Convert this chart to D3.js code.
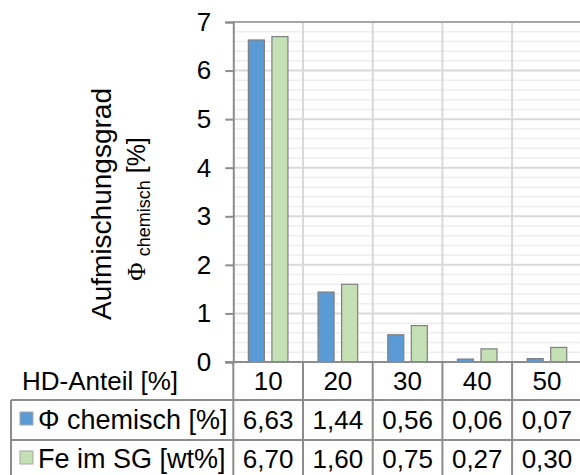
<!DOCTYPE html>
<html><head><meta charset="utf-8">
<script src="https://cdn.jsdelivr.net/npm/d3@7"></script>
<style>
html,body{margin:0;padding:0;background:#fff;}
svg text{font-family:"Liberation Sans",Arial,sans-serif;fill:#000;}
</style></head>
<body>
<script>
const categories = ["10","20","30","40","50"];
const seriesNames = ["Φ chemisch [%]","Fe im SG [wt%]"];
const phiChemisch = [6.63,1.44,0.56,0.06,0.07];
const feImSG = [6.70,1.60,0.75,0.27,0.30];
const seriesLabels = [["6,63","1,44","0,56","0,06","0,07"],["6,70","1,60","0,75","0,27","0,30"]];
const yTicks = [0,1,2,3,4,5,6,7];
const colors = ["#5B9BD5","#C5E0B4"];
const headerLabel = "HD-Anteil [%]";

(function(){
const W=580,H=475;
const svg=d3.select("body").append("svg").attr("width",W).attr("height",H);

const pLeft=233.3, pRight=581.8, pTop=22, zero=362;
const x=d3.scaleBand().domain(categories).range([pLeft,pRight]).paddingInner(0).paddingOuter(0);
const xs=d3.scaleBand().domain([0,1]).range([0,x.bandwidth()]).paddingInner(0.32).paddingOuter(0.64);
const y=d3.scaleLinear().domain([0,7]).range([zero,pTop]);

const minor=d3.range(0,7.001,0.2).filter(v=>Math.abs(v-Math.round(v))>1e-6);
svg.append("g").selectAll("line").data(minor).join("line")
  .attr("x1",pLeft).attr("x2",W).attr("y1",d=>y(d)).attr("y2",d=>y(d))
  .attr("stroke","#eeeeee").attr("stroke-width",1.5);
svg.append("g").selectAll("line").data(yTicks.filter(d=>d>0&&d<7)).join("line")
  .attr("x1",pLeft).attr("x2",W).attr("y1",d=>y(d)).attr("y2",d=>y(d))
  .attr("stroke","#d9d9d9").attr("stroke-width",2);
svg.append("g").selectAll("line").data(categories.slice(1)).join("line")
  .attr("x1",d=>x(d)).attr("x2",d=>x(d)).attr("y1",pTop).attr("y2",zero)
  .attr("stroke","#d9d9d9").attr("stroke-width",2);
svg.append("line").attr("x1",pLeft).attr("x2",W).attr("y1",y(7)).attr("y2",y(7))
  .attr("stroke","#a6a6a6").attr("stroke-width",2);

const data=[phiChemisch,feImSG];
data.forEach((vals,si)=>{
  svg.append("g").selectAll("rect").data(vals).join("rect")
    .attr("x",(d,i)=>x(categories[i])+xs(si))
    .attr("width",xs.bandwidth())
    .attr("y",d=>y(d)).attr("height",d=>zero-y(d))
    .attr("fill",colors[si]).attr("stroke","#7f7f7f").attr("stroke-width",1.2);
});

const yAxis=svg.append("g").attr("transform",`translate(${pLeft},0)`)
  .call(d3.axisLeft(y).tickValues(yTicks).tickSize(8).tickPadding(14).tickFormat(d3.format("d")));
yAxis.select(".domain").attr("stroke","#8c8c8c").attr("stroke-width",2);
yAxis.selectAll(".tick line").attr("stroke","#8c8c8c").attr("stroke-width",2);
yAxis.selectAll(".tick text").attr("font-size",26).attr("font-family","Liberation Sans, Arial, sans-serif").attr("fill","#000");

svg.append("text").attr("transform","translate(111,204) rotate(-90)")
  .attr("text-anchor","middle").attr("font-size",28).text("Aufmischungsgrad");
const t2=svg.append("text").attr("transform","translate(145,209) rotate(-90)")
  .attr("text-anchor","middle").attr("font-size",25);
t2.append("tspan").attr("font-family","Liberation Serif, Times New Roman, serif").text("Φ ");
t2.append("tspan").attr("font-size",18).attr("dy",5).text("chemisch");
t2.append("tspan").attr("dy",-5).text(" [%]");

const lineC="#8c8c8c";
const tbl=svg.append("g");
tbl.append("line").attr("x1",225).attr("x2",W).attr("y1",zero).attr("y2",zero).attr("stroke",lineC).attr("stroke-width",2);
[400,440,480].forEach(yy=>tbl.append("line").attr("x1",11).attr("x2",W).attr("y1",yy).attr("y2",yy).attr("stroke",lineC).attr("stroke-width",2));
tbl.append("line").attr("x1",11).attr("x2",11).attr("y1",400).attr("y2",480).attr("stroke",lineC).attr("stroke-width",2);
tbl.append("g").selectAll("line").data(categories).join("line")
  .attr("x1",d=>x(d)).attr("x2",d=>x(d)).attr("y1",zero).attr("y2",480)
  .attr("stroke",lineC).attr("stroke-width",2);
tbl.append("text").attr("x",22).attr("y",390).attr("font-size",26).text(headerLabel);
tbl.append("g").selectAll("text").data(categories).join("text")
  .attr("x",d=>x(d)+x.bandwidth()/2).attr("y",390).attr("text-anchor","middle")
  .attr("font-size",26).text(d=>d);
seriesNames.forEach((nm,si)=>{
  const by=429+si*39;
  tbl.append("rect").attr("x",20).attr("y",by-17).attr("width",13).attr("height",13)
    .attr("fill",colors[si]).attr("stroke","#a6a6a6").attr("stroke-width",1);
  tbl.append("text").attr("x",38).attr("y",by).attr("font-size",27).text(nm);
  tbl.append("g").selectAll("text").data(seriesLabels[si]).join("text")
    .attr("x",(d,i)=>x(categories[i])+x.bandwidth()/2).attr("y",by).attr("text-anchor","middle")
    .attr("font-size",26).text(d=>d);
});
})();
</script>
</body></html>
